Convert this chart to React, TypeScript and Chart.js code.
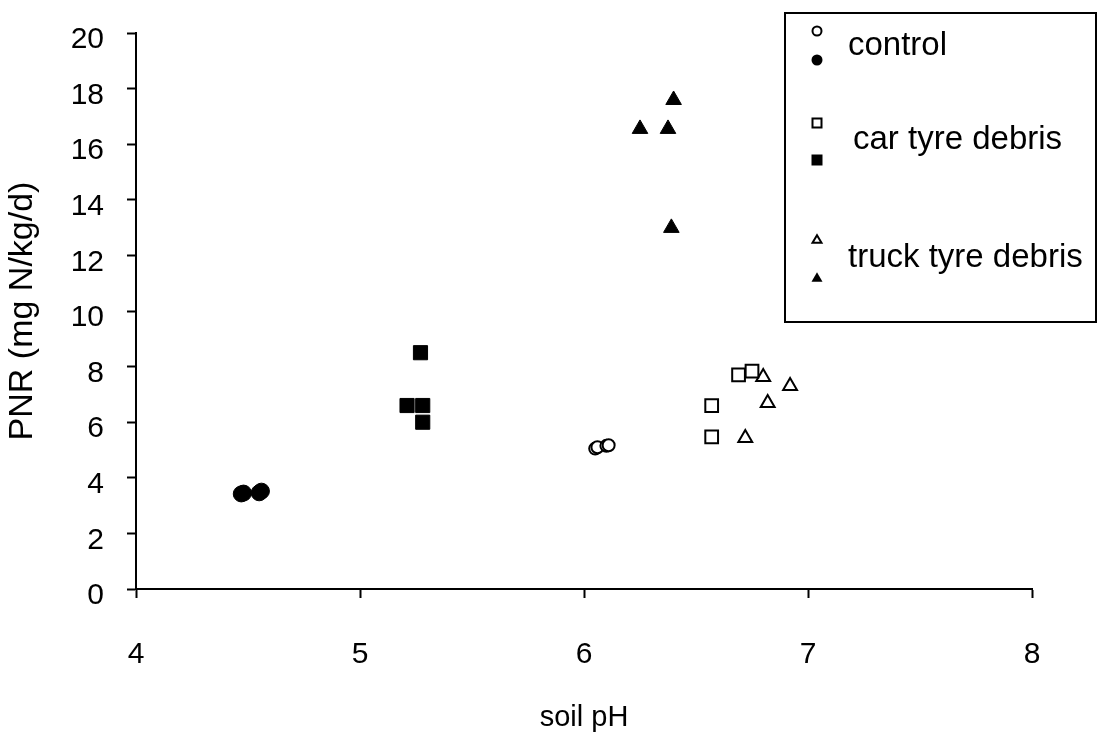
import React, { useEffect, useRef } from 'react';
import { Chart, registerables } from 'chart.js';

Chart.register(...registerables);

// ---- data ----
const controlOpenPH = [6.05, 6.06, 6.1, 6.11];
const controlOpenPNR = [5.05, 5.1, 5.15, 5.17];
const controlFilledPH = [4.47, 4.48, 4.55, 4.56];
const controlFilledPNR = [3.42, 3.45, 3.46, 3.52];
const carOpenPH = [6.69, 6.75, 6.57, 6.57];
const carOpenPNR = [7.7, 7.84, 6.6, 5.47];
const carFilledPH = [5.27, 5.21, 5.28, 5.28];
const carFilledPNR = [8.5, 6.6, 6.6, 6.0];
const truckOpenPH = [6.8, 6.92, 6.82, 6.72];
const truckOpenPNR = [7.63, 7.3, 6.69, 5.43];
const truckFilledPH = [6.4, 6.25, 6.375, 6.39];
const truckFilledPNR = [17.59, 16.55, 16.55, 12.99];

const legendLabels = ['control', 'car tyre debris', 'truck tyre debris'];
const xTicks = [4, 5, 6, 7, 8];
const yTicks = [0, 2, 4, 6, 8, 10, 12, 14, 16, 18, 20];
const xTitle = 'soil pH';
const yTitle = 'PNR (mg N/kg/d)';

const FONT = "'Liberation Sans', Arial, sans-serif";

const pts = (xs: number[], ys: number[]) => xs.map((x, i) => ({ x, y: ys[i] }));

function drawMarker(
  ctx: CanvasRenderingContext2D,
  shape: string,
  x: number,
  y: number,
  r: number,
  filled: boolean
) {
  ctx.beginPath();
  if (shape === 'circle') {
    ctx.arc(x, y, r, 0, Math.PI * 2);
  } else if (shape === 'rect') {
    ctx.rect(x - r, y - r, 2 * r, 2 * r);
  } else {
    const h = r * 1.7;
    ctx.moveTo(x, y - h / 2 - 1);
    ctx.lineTo(x + r, y + h / 2 - 1);
    ctx.lineTo(x - r, y + h / 2 - 1);
    ctx.closePath();
  }
  if (filled) {
    ctx.fillStyle = '#000';
    ctx.fill();
  } else {
    ctx.fillStyle = '#fff';
    ctx.fill();
    ctx.lineWidth = 2;
    ctx.strokeStyle = '#000';
    ctx.stroke();
  }
}

const legendPlugin = {
  id: 'pairLegend',
  afterDraw(chart: any) {
    const ctx: CanvasRenderingContext2D = chart.ctx;
    const area = chart.chartArea;
    const boxLeft = area.right - 247;
    const boxTop = area.top - 20;
    const boxW = 311;
    const boxH = 309;
    ctx.save();
    ctx.fillStyle = '#fff';
    ctx.fillRect(boxLeft, boxTop, boxW, boxH);
    ctx.lineWidth = 2;
    ctx.strokeStyle = '#000';
    ctx.strokeRect(boxLeft, boxTop, boxW, boxH);

    const shapes = ['circle', 'rect', 'triangle'];
    const openY = [18, 110, 227];
    const filledY = [47, 147, 265];
    const textY = [33, 127, 245];
    const textX = [63, 68, 63];
    const mx = boxLeft + 32;
    ctx.font = `33px ${FONT}`;
    ctx.textBaseline = 'middle';
    ctx.textAlign = 'left';
    for (let i = 0; i < 3; i++) {
      drawMarker(ctx, shapes[i], mx, boxTop + openY[i], 4.5, false);
      drawMarker(ctx, shapes[i], mx, boxTop + filledY[i], 5.5, true);
      ctx.fillStyle = '#000';
      ctx.fillText(legendLabels[i], boxLeft + textX[i], boxTop + textY[i]);
    }
    ctx.restore();
  },
};

export default function App() {
  const ref = useRef<HTMLCanvasElement | null>(null);

  useEffect(() => {
    if (!ref.current) return;
    const openStyle = { backgroundColor: '#fff', borderColor: '#000', borderWidth: 2 };
    const filledStyle = { backgroundColor: '#000', borderColor: '#000', borderWidth: 1 };
    const chart = new Chart(ref.current, {
      type: 'scatter',
      data: {
        datasets: [
          { label: 'control (filled)', data: pts(controlFilledPH, controlFilledPNR), pointStyle: 'circle', pointRadius: 8, ...filledStyle },
          { label: 'control (open)', data: pts(controlOpenPH, controlOpenPNR), pointStyle: 'circle', pointRadius: 6, ...openStyle },
          { label: 'car (filled)', data: pts(carFilledPH, carFilledPNR), pointStyle: 'rect', pointRadius: 10, ...filledStyle },
          { label: 'car (open)', data: pts(carOpenPH, carOpenPNR), pointStyle: 'rect', pointRadius: 9, ...openStyle },
          { label: 'truck (filled)', data: pts(truckFilledPH, truckFilledPNR), pointStyle: 'triangle', pointRadius: 9, ...filledStyle },
          { label: 'truck (open)', data: pts(truckOpenPH, truckOpenPNR), pointStyle: 'triangle', pointRadius: 8, ...openStyle },
        ],
      },
      options: {
        animation: false,
        responsive: true,
        maintainAspectRatio: false,
        layout: { padding: { top: 33, right: 70, left: 0, bottom: 0 } },
        plugins: {
          legend: { display: false },
          tooltip: { enabled: false },
        },
        scales: {
          x: {
            type: 'linear',
            min: 4,
            max: 8,
            afterBuildTicks: (s: any) => {
              s.ticks = xTicks.map((v) => ({ value: v }));
            },
            afterFit: (s: any) => {
              s.height = 149;
            },
            border: { display: true, color: '#000', width: 2 },
            grid: { display: true, drawOnChartArea: false, drawTicks: true, tickLength: 9, tickWidth: 2, tickColor: '#000' },
            ticks: { color: '#000', font: { family: FONT, size: 30 }, padding: 39 },
            title: { display: true, text: xTitle, color: '#000', font: { family: FONT, size: 29 }, padding: { top: 0, bottom: 3 } },
          },
          y: {
            type: 'linear',
            min: 0,
            max: 20,
            afterBuildTicks: (s: any) => {
              s.ticks = yTicks.map((v) => ({ value: v }));
            },
            afterFit: (s: any) => {
              s.width = 136;
              s.paddingTop = 0;
              s.paddingBottom = 0;
            },
            border: { display: true, color: '#000', width: 2 },
            grid: { display: true, drawOnChartArea: false, drawTicks: true, tickLength: 9, tickWidth: 2, tickColor: '#000' },
            ticks: { color: '#000', font: { family: FONT, size: 30 }, padding: 23, labelOffset: 7 },
            title: { display: true, text: yTitle, color: '#000', font: { family: FONT, size: 34 }, padding: { top: 2, bottom: 0 } },
          },
        },
      },
      plugins: [legendPlugin],
    });
    return () => chart.destroy();
  }, []);

  return (
    <div style={{ position: 'fixed', left: 0, top: 0, width: 1102, height: 738, background: '#fff' }}>
      <canvas ref={ref} />
    </div>
  );
}
